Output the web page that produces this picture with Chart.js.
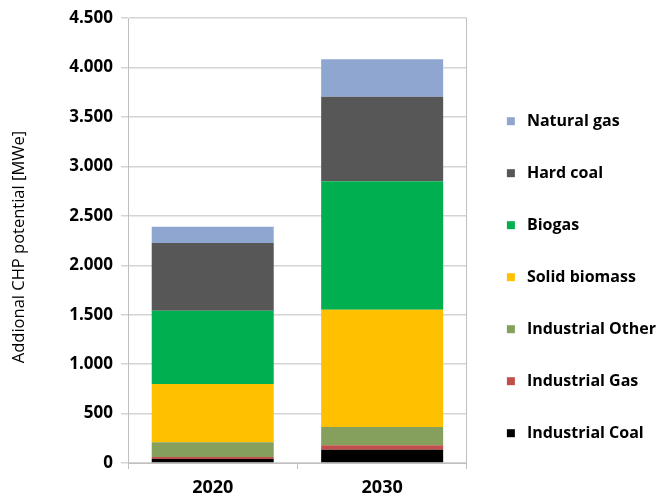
<!DOCTYPE html>
<html>
<head>
<meta charset="utf-8">
<script src="https://cdn.jsdelivr.net/npm/chart.js@4/dist/chart.umd.min.js"></script>
<style>
html,body{margin:0;padding:0;background:#fff;}
#wrap{position:relative;width:658px;height:499px;}
</style>
</head>
<body>
<div id="wrap"><canvas id="c" width="658" height="499"></canvas></div>
<script>
const categories = ['2020', '2030'];
const industrialCoal  = [40, 135];
const industrialGas   = [20, 45];
const industrialOther = [150, 185];
const solidBiomass    = [590, 1185];
const biogas          = [740, 1300];
const hardCoal        = [685, 855];
const naturalGas      = [165, 380];
const yTicks = [0, 500, 1000, 1500, 2000, 2500, 3000, 3500, 4000, 4500];

const seriesNames  = ['Industrial Coal', 'Industrial Gas', 'Industrial Other', 'Solid biomass', 'Biogas', 'Hard coal', 'Natural gas'];
const seriesValues = [industrialCoal, industrialGas, industrialOther, solidBiomass, biogas, hardCoal, naturalGas];
const seriesColors = ['#000000', '#c0504d', '#84a05c', '#ffc000', '#00b050', '#575757', '#8fa6d1'];

const fmt = v => String(v).replace(/\B(?=(\d{3})+(?!\d))/g, '.');

new Chart(document.getElementById('c'), {
  type: 'bar',
  data: {
    labels: categories,
    datasets: seriesNames.map((n, i) => ({
      label: n,
      data: seriesValues[i],
      backgroundColor: seriesColors[i],
      borderWidth: 0,
      barPercentage: 0.72,
      categoryPercentage: 1.0
    }))
  },
  options: {
    responsive: false,
    animation: false,
    layout: { padding: { top: 17, bottom: 0, left: 0, right: -8 } },
    plugins: {
      tooltip: { enabled: false },
      legend: {
        position: 'right',
        align: 'center',
        reverse: true,
        maxWidth: 400,
        title: { display: true, text: ' ', font: { size: 12 }, padding: 12 },
        labels: {
          usePointStyle: true,
          pointStyle: 'rect',
          boxWidth: 16,
          boxHeight: 8,
          padding: 36,
          color: '#000',
          font: { family: 'Open Sans', weight: 'bold', size: 16 }
        }
      }
    },
    scales: {
      x: {
        stacked: true,
        afterFit: s => { s.height = 36; },
        grid: { offset: true, drawOnChartArea: false, color: '#bfbfbf', tickLength: 6, lineWidth: 1 },
        border: { color: '#bfbfbf' },
        ticks: { color: '#000', padding: 8, font: { family: 'Open Sans', weight: 'bold', size: 18 } }
      },
      y: {
        stacked: true,
        min: 0,
        max: 4500,
        afterFit: s => { s.width = 128; },
        afterBuildTicks: s => { s.ticks = yTicks.map(v => ({ value: v })); },
        grid: { color: '#d4d4d4', lineWidth: 1.5, tickLength: 7 },
        border: { color: '#bfbfbf' },
        ticks: { color: '#000', padding: 8, callback: v => fmt(v), font: { family: 'Open Sans', weight: 'bold', size: 17 } },
        title: {
          display: true,
          text: 'Addional CHP potential [MWe]\u00a0\u00a0\u00a0',
          color: '#000',
          padding: { top: 9, bottom: 0 },
          font: { family: 'Open Sans', size: 16.5 }
        }
      },
      yRight: {
        position: 'right',
        min: 0,
        max: 4500,
        afterFit: s => { s.width = 0; },
        grid: { drawOnChartArea: false, drawTicks: false },
        border: { color: '#bfbfbf' },
        ticks: { display: false }
      }
    }
  }
});
</script>
</body>
</html>
